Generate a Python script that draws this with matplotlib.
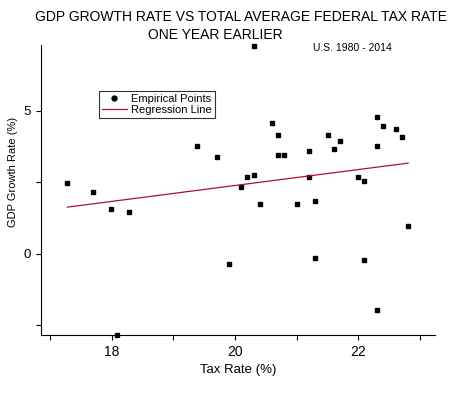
import numpy as np
import matplotlib
matplotlib.use('Agg')
import matplotlib.pyplot as plt
from matplotlib.lines import Line2D
from matplotlib.ticker import MultipleLocator

plt.rcParams['font.family'] = ['Liberation Sans', 'DejaVu Sans']

# tax rate one year earlier (%) and GDP growth (%), U.S. 1980-2014
tax_rate = [17.28, 17.69, 17.98, 18.28, 18.09, 19.39, 19.70, 19.90, 20.09, 20.19,
            20.30, 20.30, 20.40, 20.60, 20.69, 20.69, 20.79, 21.00, 21.20, 21.20,
            21.30, 21.30, 21.50, 21.60, 21.70, 22.00, 22.10, 22.10, 22.30, 22.30,
            22.30, 22.40, 22.61, 22.71, 22.81]
gdp_growth = [2.46, 2.17, 1.56, 1.47, -2.83, 3.77, 3.37, -0.34, 2.35, 2.67,
              2.77, 7.27, 1.76, 4.57, 4.16, 3.46, 3.46, 1.76, 3.58, 2.67,
              1.85, -0.13, 4.16, 3.68, 3.96, 2.67, 2.56, -0.23, 4.77, 3.77,
              -1.95, 4.46, 4.37, 4.07, 0.97]

# regression line as drawn
reg_slope = 0.278
reg_intercept = -3.17

fig = plt.figure(figsize=(4.58, 3.94), dpi=100)
ax = fig.add_axes([0.0895, 0.150, 0.861, 0.736])

ax.plot(tax_rate, gdp_growth, linestyle='none', marker='s', markersize=3.4,
        color='black', clip_on=False)
xr = np.array([min(tax_rate), max(tax_rate)])
ax.plot(xr, reg_slope * xr + reg_intercept, color='#b0102a', linewidth=0.9)

ax.set_xlim(16.85, 23.25)
ax.set_ylim(-2.83, 7.3)
ax.xaxis.set_major_locator(MultipleLocator(2))
ax.xaxis.set_minor_locator(MultipleLocator(1))
ax.yaxis.set_major_locator(MultipleLocator(5))
ax.yaxis.set_minor_locator(MultipleLocator(2.5))
ax.tick_params(which='both', length=3.5, width=0.8, labelsize=10)
ax.tick_params(axis='y', labelsize=9.5)
ax.spines['top'].set_visible(False)
ax.spines['right'].set_visible(False)
ax.set_xlabel('Tax Rate (%)', fontsize=9.5, labelpad=4)
ax.set_ylabel('GDP Growth Rate (%)', fontsize=8, labelpad=8)
ax.yaxis.set_label_coords(-0.058, 0.562)

handles = [Line2D([], [], linestyle='none', marker='o', markersize=3.5, color='black'),
           Line2D([], [], color='#b0102a', linewidth=0.9)]
leg = ax.legend(handles, ['Empirical Points', 'Regression Line'], loc='upper left',
                bbox_to_anchor=(0.148, 0.84), fontsize=8, frameon=True, fancybox=False,
                borderpad=0.25, labelspacing=0.1, handlelength=2.2, handletextpad=0.4,
                borderaxespad=0)
leg.get_frame().set_edgecolor('black')
leg.get_frame().set_linewidth(0.8)

fig.text(0.526, 0.975, 'GDP GROWTH RATE VS TOTAL AVERAGE FEDERAL TAX RATE',
         ha='center', va='top', fontsize=10)
fig.text(0.47, 0.93, 'ONE YEAR EARLIER', ha='center', va='top', fontsize=10)
fig.text(0.77, 0.877, 'U.S. 1980 - 2014', ha='center', va='center', fontsize=7.5)

fig.savefig('out.png', dpi=100)
